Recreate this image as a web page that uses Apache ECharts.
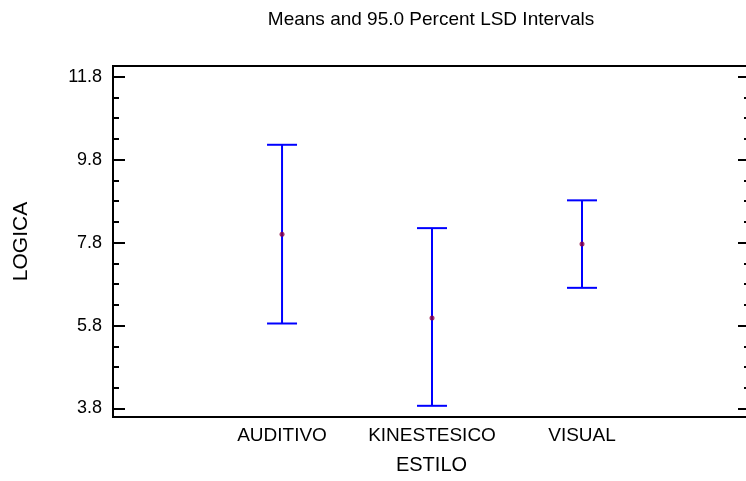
<!DOCTYPE html>
<html>
<head>
<meta charset="utf-8">
<script src="https://cdn.jsdelivr.net/npm/echarts@6/dist/echarts.min.js"></script>
<style>html,body{margin:0;padding:0;background:#fff;}#chart{width:746px;height:481px;}</style>
</head>
<body>
<div id="chart"></div>
<script>
var categories = ['AUDITIVO', 'KINESTESICO', 'VISUAL'];
var means = [8.0, 5.98, 7.77];
var lower = [5.85, 3.865, 6.71];
var upper = [10.16, 8.15, 8.82];
var majorTicks = [3.8, 5.8, 7.8, 9.8, 11.8];
var minorTicks = [4.3, 4.8, 5.3, 6.3, 6.8, 7.3, 8.3, 8.8, 9.3, 10.3, 10.8, 11.3];
var yMin = 3.595, yMax = 12.06;
var xMin = -0.127, xMax = 4.12;

var FONT = "'Liberation Sans', Arial, sans-serif";
var chart = echarts.init(document.getElementById('chart'), null, {renderer: 'canvas'});

var catPos = categories.map(function (c, i) { return i + 1; });

function yAxisDef(pos, ticks, len, showLabel, extra) {
  var o = {
    type: 'value', position: pos, offset: 0, min: yMin, max: yMax,
    splitLine: {show: false},
    axisLine: {show: false, onZero: false},
    axisTick: {show: true, inside: true, length: len, customValues: ticks, lineStyle: {color: '#000', width: 2}},
    axisLabel: showLabel ? {show: true, customValues: ticks, margin: 11, color: '#000', fontSize: 18, fontFamily: FONT,
      formatter: function (v) { return (+v).toFixed(1); }} : {show: false}
  };
  for (var k in extra) o[k] = extra[k];
  return o;
}

var option = {
  animation: false,
  backgroundColor: '#fff',
  title: {
    text: 'Means and 95.0 Percent LSD Intervals',
    left: 431, top: 10, textAlign: 'center', padding: 0,
    textStyle: {fontSize: 19, fontWeight: 'normal', color: '#000', fontFamily: FONT}
  },
  grid: {left: 113, right: -4, top: 66, bottom: 64, outerBoundsMode: 'none', containLabel: false,
    show: true, borderColor: '#000', borderWidth: 2, backgroundColor: 'transparent'},
  xAxis: {
    type: 'value', min: xMin, max: xMax,
    name: 'ESTILO', nameLocation: 'middle', nameGap: 38,
    nameTextStyle: {fontSize: 20, color: '#000', fontFamily: FONT},
    splitLine: {show: false},
    axisLine: {show: true, onZero: false, lineStyle: {color: '#000', width: 2}},
    axisTick: {show: false},
    axisLabel: {show: true, customValues: catPos, margin: 9, color: '#000', fontSize: 19, fontFamily: FONT,
      formatter: function (v) { return categories[Math.round(v) - 1] || ''; }}
  },
  yAxis: [
    yAxisDef('left', majorTicks, 12, true, {name: 'LOGICA', nameLocation: 'middle', nameGap: 81, nameRotate: 90,
      nameTextStyle: {fontSize: 21, color: '#000', fontFamily: FONT},
      axisLine: {show: true, onZero: false, lineStyle: {color: '#000', width: 2}}}),
    yAxisDef('left', minorTicks, 6, false, {}),
    yAxisDef('right', majorTicks, 12, false, {}),
    yAxisDef('right', minorTicks, 6, false, {})
  ],
  series: [
    {
      type: 'custom',
      xAxisIndex: 0, yAxisIndex: 0,
      data: categories.map(function (c, i) { return [i + 1, lower[i], upper[i]]; }),
      renderItem: function (params, api) {
        var x = api.value(0);
        var lo = api.coord([x, api.value(1)]);
        var hi = api.coord([x, api.value(2)]);
        var hw = 15;
        var st = {stroke: '#0000FF', lineWidth: 2};
        return {
          type: 'group',
          children: [
            {type: 'line', shape: {x1: lo[0], y1: lo[1], x2: hi[0], y2: hi[1]}, style: st},
            {type: 'line', shape: {x1: lo[0] - hw, y1: lo[1], x2: lo[0] + hw, y2: lo[1]}, style: st},
            {type: 'line', shape: {x1: hi[0] - hw, y1: hi[1], x2: hi[0] + hw, y2: hi[1]}, style: st}
          ]
        };
      },
      z: 2
    },
    {
      type: 'scatter',
      xAxisIndex: 0, yAxisIndex: 0,
      data: categories.map(function (c, i) { return [i + 1, means[i]]; }),
      symbol: 'circle', symbolSize: 5,
      itemStyle: {color: '#8B0040'},
      z: 3
    }
  ]
};
chart.setOption(option);
</script>
</body>
</html>
